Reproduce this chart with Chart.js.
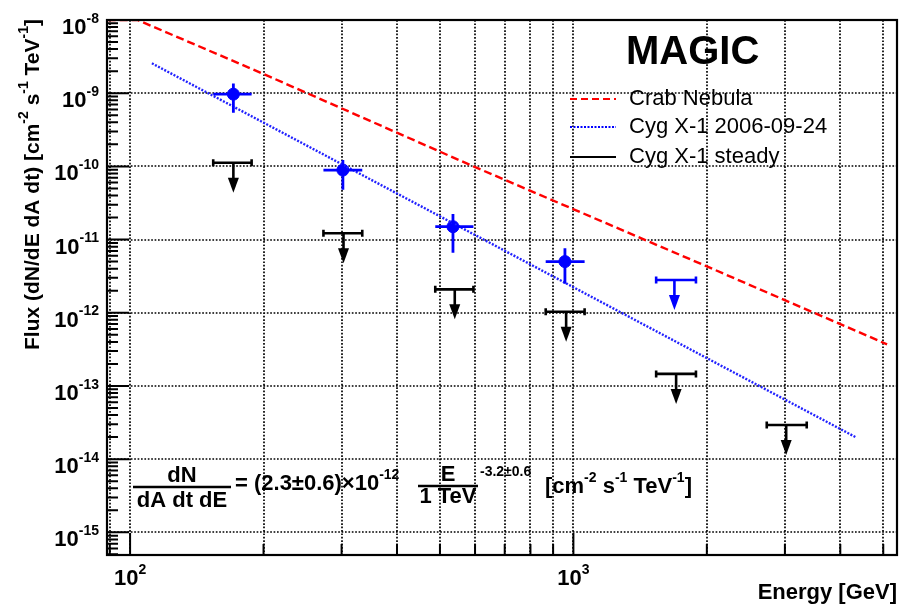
<!DOCTYPE html>
<html>
<head>
<meta charset="utf-8">
<script src="https://cdn.jsdelivr.net/npm/chart.js@4.4.0/dist/chart.umd.min.js"></script>
<style>
  html, body { margin: 0; padding: 0; background: #fff; }
  #wrap { width: 905px; height: 605px; }
</style>
</head>
<body>
<div id="wrap"><canvas id="chart" width="905" height="605"></canvas></div>
<script>
/* ---------- data ---------- */
const X_MIN = 88.7, X_MAX = 5370;      // Energy [GeV]
const Y_MIN = 4.9e-16, Y_MAX = 1e-8;   // Flux

// tick labels (powers of ten)
const X_LABEL_EXP = [2, 3];
const Y_LABEL_EXP = [-8, -9, -10, -11, -12, -13, -14, -15];

// Crab Nebula reference spectrum (red dashed)
const CRAB_E = [89, 104, 200, 595, 2000, 5100];
const CRAB_F = [1e-8, 1e-8, 1.83e-9, 1.0e-10, 4.3e-12, 3.7e-13];

// Cyg X-1 2006-09-24 power-law fit (blue dotted)
const FIT_E = [112, 4350];
const FIT_F = [2.56e-9, 1.97e-14];

// Cyg X-1 2006-09-24 points
const PT_E = [171, 302, 535, 957];
const PT_E_LO = [154, 273, 488, 866];
const PT_E_HI = [188, 334, 595, 1060];
const PT_F = [9.7e-10, 8.9e-11, 1.5e-11, 5.0e-12];
const PT_F_HI = [1.36e-9, 1.22e-10, 2.24e-11, 7.6e-12];
const PT_F_LO = [5.4e-10, 4.8e-11, 6.6e-12, 2.5e-12];

// Cyg X-1 2006-09-24 upper limit
const PT_UL_E = [1690];
const PT_UL_E_LO = [1537];
const PT_UL_E_HI = [1890];
const PT_UL_F = [2.8e-12];

// Cyg X-1 steady upper limits
const UL_E = [171, 303, 540, 963, 1705, 3020];
const UL_E_LO = [154, 273, 488, 866, 1537, 2730];
const UL_E_HI = [188, 334, 595, 1060, 1890, 3360];
const UL_F = [1.12e-10, 1.22e-11, 2.09e-12, 1.03e-12, 1.46e-13, 2.93e-14];

const RED = '#ff0000';
const BLUE = '#0000ff';
const FONT = '"Liberation Sans", Arial, Helvetica, sans-serif';

function font(size, bold) {
    return (bold ? 'bold ' : '') + size + 'px ' + FONT;
}

// parts: [[text, isSup], ...]
function richWidth(ctx, parts, size, sup, bold) {
    let w = 0;
    parts.forEach(p => {
        ctx.font = font(p[1] ? sup : size, bold);
        w += ctx.measureText(p[0]).width;
    });
    return w;
}

function drawRich(ctx, parts, x, y, size, sup, bold, align) {
    const w = richWidth(ctx, parts, size, sup, bold);
    let cx = align === 'right' ? x - w : align === 'center' ? x - w / 2 : x;
    ctx.textAlign = 'left';
    ctx.textBaseline = 'middle';
    parts.forEach(p => {
        ctx.font = font(p[1] ? sup : size, bold);
        ctx.fillText(p[0], cx, p[1] ? y - size * 0.42 : y);
        cx += ctx.measureText(p[0]).width;
    });
}

// all 1..9 x 10^n values inside a range
function logSteps(min, max) {
    const out = [];
    for (let d = Math.floor(Math.log10(min)); d <= Math.ceil(Math.log10(max)); d++) {
        for (let m = 1; m <= 9; m++) {
            const v = m * Math.pow(10, d);
            if (v >= min * 0.999 && v <= max * 1.001) out.push({ v, major: m === 1 });
        }
    }
    return out;
}

function upperLimit(ctx, xs, ys, x, xl, xr, y, color) {
    const px = xs.getPixelForValue(x);
    const pl = xs.getPixelForValue(xl);
    const pr = xs.getPixelForValue(xr);
    const py = ys.getPixelForValue(y);
    ctx.strokeStyle = color;
    ctx.fillStyle = color;
    ctx.lineWidth = 2.6;
    ctx.beginPath();
    ctx.moveTo(pl, py); ctx.lineTo(pr, py);
    ctx.moveTo(pl, py - 3.5); ctx.lineTo(pl, py + 3.5);
    ctx.moveTo(pr, py - 3.5); ctx.lineTo(pr, py + 3.5);
    ctx.moveTo(px, py); ctx.lineTo(px, py + 20);
    ctx.stroke();
    ctx.beginPath();
    ctx.moveTo(px - 5.5, py + 15);
    ctx.lineTo(px + 5.5, py + 15);
    ctx.lineTo(px, py + 30);
    ctx.closePath();
    ctx.fill();
}

const magicPlugin = {
    id: 'magic',
    beforeDatasetsDraw(chart) {
        const { ctx, chartArea: a, scales: { x, y } } = chart;
        ctx.save();
        ctx.strokeStyle = '#000';
        ctx.lineWidth = 1.7;
        ctx.setLineDash([1.7, 1.7]);
        ctx.beginPath();
        logSteps(X_MIN, X_MAX).forEach(t => {
            const px = Math.round(x.getPixelForValue(t.v));
            ctx.moveTo(px, a.top); ctx.lineTo(px, a.bottom);
        });
        Y_LABEL_EXP.forEach(e => {
            const py = Math.round(y.getPixelForValue(Math.pow(10, e)));
            ctx.moveTo(a.left, py); ctx.lineTo(a.right, py);
        });
        ctx.stroke();
        ctx.restore();
    },
    afterDatasetsDraw(chart) {
        const { ctx, scales: { x, y } } = chart;
        ctx.save();
        // error bars of the 2006-09-24 points
        ctx.strokeStyle = BLUE;
        ctx.lineWidth = 2.8;
        ctx.beginPath();
        PT_E.forEach((e, i) => {
            const px = x.getPixelForValue(e);
            const py = y.getPixelForValue(PT_F[i]);
            ctx.moveTo(x.getPixelForValue(PT_E_LO[i]), py);
            ctx.lineTo(x.getPixelForValue(PT_E_HI[i]), py);
            ctx.moveTo(px, y.getPixelForValue(PT_F_HI[i]));
            ctx.lineTo(px, y.getPixelForValue(PT_F_LO[i]));
        });
        ctx.stroke();
        PT_UL_E.forEach((e, i) => upperLimit(ctx, x, y, e, PT_UL_E_LO[i], PT_UL_E_HI[i], PT_UL_F[i], BLUE));
        UL_E.forEach((e, i) => upperLimit(ctx, x, y, e, UL_E_LO[i], UL_E_HI[i], UL_F[i], '#000'));
        ctx.restore();
    },
    afterDraw(chart) {
        const { ctx, chartArea: a, scales: { x, y } } = chart;
        ctx.save();
        ctx.fillStyle = '#000';
        ctx.strokeStyle = '#000';

        // frame
        ctx.lineWidth = 2.2;
        ctx.strokeRect(a.left, a.top, a.right - a.left, a.bottom - a.top);

        // tick marks
        ctx.lineWidth = 2;
        ctx.beginPath();
        logSteps(X_MIN, X_MAX).forEach(t => {
            const px = x.getPixelForValue(t.v);
            ctx.moveTo(px, a.bottom); ctx.lineTo(px, a.bottom - (t.major ? 22 : 11));
        });
        logSteps(Y_MIN, Y_MAX).forEach(t => {
            const py = y.getPixelForValue(t.v);
            ctx.moveTo(a.left, py); ctx.lineTo(a.left + (t.major ? 22 : 11), py);
        });
        ctx.stroke();

        // tick labels
        X_LABEL_EXP.forEach(e => {
            drawRich(ctx, [['10', false], [String(e), true]], x.getPixelForValue(Math.pow(10, e)), 579, 22, 14, true, 'center');
        });
        Y_LABEL_EXP.forEach(e => {
            drawRich(ctx, [['10', false], [String(e), true]], 99, y.getPixelForValue(Math.pow(10, e)) + 8, 22, 14, true, 'right');
        });

        // axis titles
        ctx.textBaseline = 'middle';
        ctx.textAlign = 'right';
        ctx.font = font(22, true);
        ctx.fillText('Energy [GeV]', a.right, 593);

        ctx.save();
        ctx.translate(33, 19);
        ctx.rotate(-Math.PI / 2);
        drawRich(ctx, [['Flux (dN/dE dA dt) [cm', false], ['-2', true], [' s', false], ['-1', true],
            [' TeV', false], ['-1', true], [']', false]], 0, 0, 21, 14, true, 'right');
        ctx.restore();

        // MAGIC label
        ctx.textAlign = 'left';
        ctx.font = font(40, true);
        ctx.fillText('MAGIC', 626, 53);

        // legend
        const legend = [
            { label: 'Crab Nebula', color: RED, dash: [7, 4], y: 99 },
            { label: 'Cyg X-1 2006-09-24', color: BLUE, dash: [2, 1.5], y: 127 },
            { label: 'Cyg X-1 steady', color: '#000', dash: [], y: 157 }
        ];
        legend.forEach(l => {
            ctx.strokeStyle = l.color;
            ctx.lineWidth = 2.2;
            ctx.setLineDash(l.dash);
            ctx.beginPath();
            ctx.moveTo(570, l.y); ctx.lineTo(616, l.y);
            ctx.stroke();
            ctx.setLineDash([]);
            ctx.fillStyle = '#000';
            ctx.font = font(22, false);
            ctx.textAlign = 'left';
            ctx.fillText(l.label, 629, l.y);
        });

        // fit formula
        ctx.fillStyle = '#000';
        ctx.strokeStyle = '#000';
        ctx.lineWidth = 2.6;
        ctx.font = font(22, true);
        ctx.textAlign = 'center';
        ctx.fillText('dN', 182, 476);
        ctx.fillText('dA dt dE', 182, 501);
        ctx.beginPath();
        ctx.moveTo(133, 487); ctx.lineTo(231, 487);
        ctx.moveTo(418, 486); ctx.lineTo(478, 486);
        ctx.stroke();
        drawRich(ctx, [['= (2.3\u00b10.6)\u00d710', false], ['-12', true]], 235, 484, 22, 14, true, 'left');
        ctx.font = font(22, true);
        ctx.textAlign = 'center';
        ctx.fillText('E', 448, 475);
        ctx.fillText('1 TeV', 448, 497);
        ctx.textAlign = 'left';
        ctx.font = font(14, true);
        ctx.fillText('-3.2\u00b10.6', 480, 472);
        drawRich(ctx, [['[cm', false], ['-2', true], [' s', false], ['-1', true], [' TeV', false], ['-1', true], [']', false]],
            545, 487, 22, 14, true, 'left');

        ctx.restore();
    }
};

new Chart(document.getElementById('chart'), {
    type: 'line',
    data: {
        datasets: [
            {
                label: 'Crab Nebula',
                data: CRAB_E.map((e, i) => ({ x: e, y: CRAB_F[i] })),
                borderColor: RED,
                borderDash: [8, 4],
                borderWidth: 2.4,
                pointRadius: 0,
                fill: false
            },
            {
                label: 'Cyg X-1 2006-09-24 fit',
                data: FIT_E.map((e, i) => ({ x: e, y: FIT_F[i] })),
                borderColor: '#2222ff',
                borderDash: [2, 1.5],
                borderWidth: 2.4,
                pointRadius: 0,
                fill: false
            },
            {
                type: 'scatter',
                label: 'Cyg X-1 2006-09-24',
                data: PT_E.map((e, i) => ({ x: e, y: PT_F[i] })),
                pointRadius: 6,
                pointBackgroundColor: BLUE,
                pointBorderColor: BLUE,
                showLine: false
            }
        ]
    },
    options: {
        responsive: false,
        animation: false,
        devicePixelRatio: 1,
        layout: { padding: { left: 107, right: 8, top: 20, bottom: 50 } },
        plugins: { legend: { display: false }, tooltip: { enabled: false } },
        scales: {
            x: { type: 'logarithmic', min: X_MIN, max: X_MAX, bounds: 'data', display: false },
            y: { type: 'logarithmic', min: Y_MIN, max: Y_MAX, bounds: 'data', display: false }
        }
    },
    plugins: [magicPlugin]
});
</script>
</body>
</html>
